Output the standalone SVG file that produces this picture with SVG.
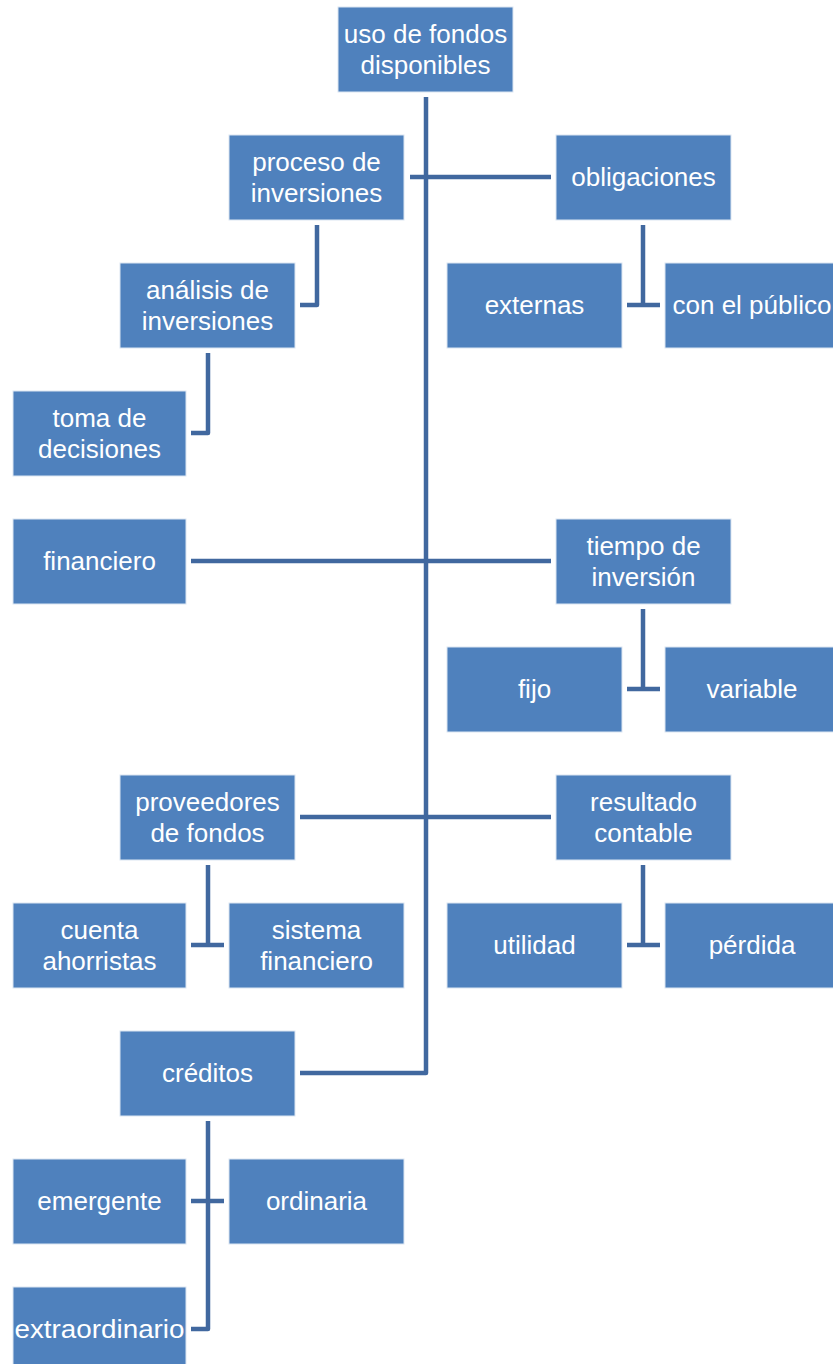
<svg xmlns="http://www.w3.org/2000/svg" width="833" height="1364" viewBox="0 0 833 1364">
  <style>
    .box { fill: #4F81BD; stroke: #dce6f2; stroke-width: 1; }
    .lbl { fill: #ffffff; font-family: "Liberation Sans", Arial, sans-serif; font-size: 26px; text-anchor: middle; }
    .con { fill: none; stroke: #41689F; stroke-width: 4.5; stroke-linejoin: round; }
  </style>
  <rect width="833" height="1364" fill="#ffffff"/>

  <!-- connectors -->
  <g id="connectors">
    <path class="con" d="M426,97 V1073 H300"/>
    <path class="con" d="M410,177 H551"/>
    <path class="con" d="M317,225 V305 H300"/>
    <path class="con" d="M208,353 V433 H191"/>
    <path class="con" d="M643,225 V305 M627,305 H660"/>
    <path class="con" d="M191,561 H551"/>
    <path class="con" d="M643,609 V689 M627,689 H660"/>
    <path class="con" d="M300,817 H551"/>
    <path class="con" d="M208,865 V945 M191,945 H224"/>
    <path class="con" d="M643,865 V945 M627,945 H660"/>
    <path class="con" d="M208,1121 V1329 H191 M191,1201 H224"/>
  </g>

  <!-- nodes -->
  <g id="n-root"><rect class="box" x="338" y="7" width="175" height="85"/>
    <text class="lbl" x="425.5" y="43">uso de fondos</text><text class="lbl" x="425.5" y="74">disponibles</text></g>
  <g id="n-proceso"><rect class="box" x="229" y="135" width="175" height="85"/>
    <text class="lbl" x="316.5" y="171">proceso de</text><text class="lbl" x="316.5" y="202">inversiones</text></g>
  <g id="n-obligaciones"><rect class="box" x="556" y="135" width="175" height="85"/>
    <text class="lbl" x="643.5" y="186">obligaciones</text></g>
  <g id="n-analisis"><rect class="box" x="120" y="263" width="175" height="85"/>
    <text class="lbl" x="207.5" y="299">análisis de</text><text class="lbl" x="207.5" y="330">inversiones</text></g>
  <g id="n-externas"><rect class="box" x="447" y="263" width="175" height="85"/>
    <text class="lbl" x="534.5" y="314">externas</text></g>
  <g id="n-publico"><rect class="box" x="665" y="263" width="175" height="85"/>
    <text class="lbl" x="752" y="314">con el público</text></g>
  <g id="n-toma"><rect class="box" x="13" y="391" width="173" height="85"/>
    <text class="lbl" x="99.5" y="427">toma de</text><text class="lbl" x="99.5" y="458">decisiones</text></g>
  <g id="n-financiero"><rect class="box" x="13" y="519" width="173" height="85"/>
    <text class="lbl" x="99.5" y="570">financiero</text></g>
  <g id="n-tiempo"><rect class="box" x="556" y="519" width="175" height="85"/>
    <text class="lbl" x="643.5" y="555">tiempo de</text><text class="lbl" x="643.5" y="586">inversión</text></g>
  <g id="n-fijo"><rect class="box" x="447" y="647" width="175" height="85"/>
    <text class="lbl" x="534.5" y="698">fijo</text></g>
  <g id="n-variable"><rect class="box" x="665" y="647" width="175" height="85"/>
    <text class="lbl" x="752" y="698">variable</text></g>
  <g id="n-proveedores"><rect class="box" x="120" y="775" width="175" height="85"/>
    <text class="lbl" x="207.5" y="811">proveedores</text><text class="lbl" x="207.5" y="842">de fondos</text></g>
  <g id="n-resultado"><rect class="box" x="556" y="775" width="175" height="85"/>
    <text class="lbl" x="643.5" y="811">resultado</text><text class="lbl" x="643.5" y="842">contable</text></g>
  <g id="n-cuenta"><rect class="box" x="13" y="903" width="173" height="85"/>
    <text class="lbl" x="99.5" y="939">cuenta</text><text class="lbl" x="99.5" y="970">ahorristas</text></g>
  <g id="n-sistema"><rect class="box" x="229" y="903" width="175" height="85"/>
    <text class="lbl" x="316.5" y="939">sistema</text><text class="lbl" x="316.5" y="970">financiero</text></g>
  <g id="n-utilidad"><rect class="box" x="447" y="903" width="175" height="85"/>
    <text class="lbl" x="534.5" y="954">utilidad</text></g>
  <g id="n-perdida"><rect class="box" x="665" y="903" width="175" height="85"/>
    <text class="lbl" x="752" y="954">pérdida</text></g>
  <g id="n-creditos"><rect class="box" x="120" y="1031" width="175" height="85"/>
    <text class="lbl" x="207.5" y="1082">créditos</text></g>
  <g id="n-emergente"><rect class="box" x="13" y="1159" width="173" height="85"/>
    <text class="lbl" x="99.5" y="1210">emergente</text></g>
  <g id="n-ordinaria"><rect class="box" x="229" y="1159" width="175" height="85"/>
    <text class="lbl" x="316.5" y="1210">ordinaria</text></g>
  <g id="n-extraordinario"><rect class="box" x="13" y="1287" width="173" height="85"/>
    <text class="lbl" x="99.5" y="1338" textLength="170" lengthAdjust="spacingAndGlyphs">extraordinario</text></g>
</svg>
